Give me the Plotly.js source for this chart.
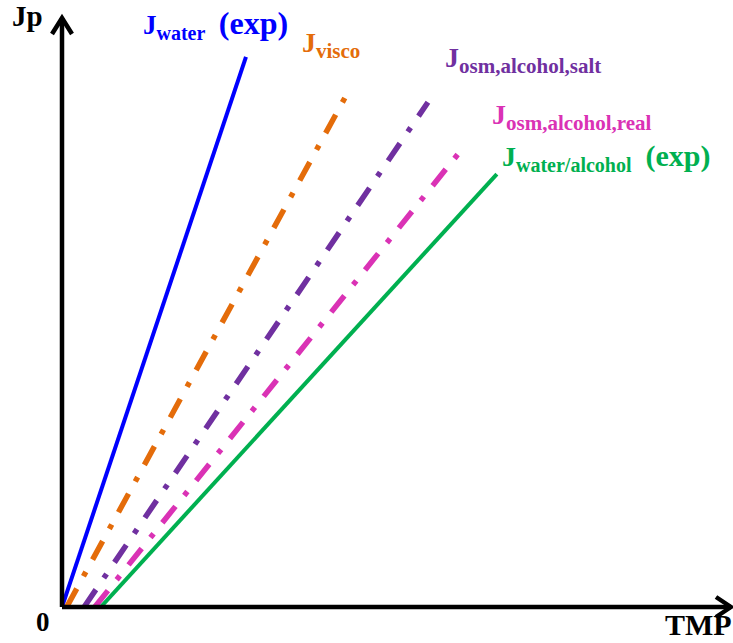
<!DOCTYPE html>
<html>
<head>
<meta charset="utf-8">
<script src="https://cdn.plot.ly/plotly-3.0.1.min.js"></script>
<style>html,body{margin:0;padding:0;background:#fff;}#chart{width:733px;height:643px;}</style>
</head>
<body>
<div id="chart"></div>
<script>
// Series: TMP (x) and Jp (y) start/end points, arbitrary units (axes have no numeric ticks)
const seriesNames = ["J_water (exp)", "J_visco", "J_osm,alcohol,salt", "J_osm,alcohol,real", "J_water/alcohol (exp)"];
const tmpStart = [0.00, 0.07, 0.33, 0.49, 0.58];
const tmpEnd   = [2.75, 4.27, 5.47, 5.99, 6.50];
const jpStart  = [0, 0, 0, 0, 0];
const jpEnd    = [9.34, 8.73, 8.57, 7.79, 7.35];
const colors   = ["#0000FF", "#E46C0A", "#7030A0", "#DA32B5", "#00B050"];
const dashes   = ["solid", "21px,14px,5px,14px", "21px,14px,5px,14px", "21px,14px,5px,14px", "solid"];
const widths   = [4, 5.5, 5.5, 5.5, 4];

const traces = seriesNames.map((n, i) => ({
  type: "scatter", mode: "lines", name: n,
  x: [tmpStart[i], tmpEnd[i]], y: [jpStart[i], jpEnd[i]],
  line: {color: colors[i], width: widths[i], dash: dashes[i]},
  hoverinfo: "skip", showlegend: false
}));

// layout helpers: page pixels -> paper coords (plot area 62..731 x 18..607)
const L = 62, T = 18, W = 669, H = 589;
const px = v => (v - L) / W;
const py = v => (T + H - v) / H;
const FONT = "Liberation Serif, Times New Roman, serif";

function lab(text, x, y, color, size, xa) {
  return {text: text, xref: "paper", yref: "paper", x: px(x), y: py(y),
    xanchor: xa || "left", yanchor: "top", showarrow: false,
    font: {family: FONT, size: size, color: color, weight: "bold"}};
}
const sp = (s, sz) => "<span style=\"font-family:'Liberation Serif',serif;font-weight:bold;font-size:" + sz + "px\">" + s + "</span>";
const sub = (s, sz) => "<sub>" + sp(s, sz) + "</sub>";

const annotations = [
  lab("J" + sub("water", 20) + "  " + sp("(exp)", 32), 141, 3, colors[0], 27),
  lab("J" + sub("visco", 21), 300, 25, colors[1], 28),
  lab("J" + sub("osm,alcohol,salt", 21), 443, 40, colors[2], 28),
  lab("J" + sub("osm,alcohol,real", 21), 490, 97, colors[3], 28),
  lab("J" + sub("water/alcohol", 20) + "  " + sp("(exp)", 30), 500, 137, colors[4], 28),
  lab("Jp", 10, -2, "#000", 29),
  lab("0", 34, 605, "#000", 27),
  lab("TMP", 734, 606, "#000", 30, "right")
];

const AX = {color: "#000", width: 4.5};
const shapes = [
  {type: "line", xref: "paper", yref: "paper", x0: 0, y0: 0, x1: 0, y1: 1, line: AX, layer: "above"},
  {type: "line", xref: "paper", yref: "paper", x0: 0, y0: 0, x1: 1, y1: 0, line: AX, layer: "above"},
  {type: "path", xref: "paper", yref: "paper", xsizemode: "pixel", ysizemode: "pixel",
   xanchor: 0, yanchor: 1, path: "M -10,-16 L 0,0 L 10,-16", line: AX, layer: "above"},
  {type: "path", xref: "paper", yref: "paper", xsizemode: "pixel", ysizemode: "pixel",
   xanchor: 1, yanchor: 0, path: "M -15,10 L 0,0 L -15,-10", line: AX, layer: "above"}
];

const layout = {
  width: 733, height: 643,
  margin: {l: L, r: 733 - L - W, t: T, b: 643 - T - H},
  paper_bgcolor: "#fff", plot_bgcolor: "#fff",
  xaxis: {range: [0, 10], showgrid: false, zeroline: false, showticklabels: false, ticks: "", showline: false},
  yaxis: {range: [0, 10], showgrid: false, zeroline: false, showticklabels: false, ticks: "", showline: false},
  annotations: annotations, shapes: shapes, showlegend: false
};

Plotly.newPlot("chart", traces, layout, {staticPlot: true, displayModeBar: false});
</script>
</body>
</html>
